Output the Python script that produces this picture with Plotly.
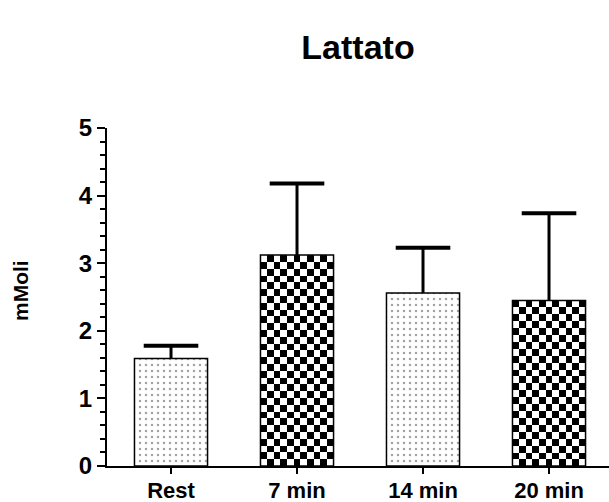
import plotly.graph_objects as go

# Blood lactate at rest and after 7, 14 and 20 minutes
categories = ["Rest", "7 min", "14 min", "20 min"]
means = [1.59, 3.12, 2.56, 2.45]
sd_upper = [0.19, 1.06, 0.67, 1.29]
fills = ["dots", "checker", "dots", "checker"]
y_ticks = [0, 1, 2, 3, 4, 5]

BAR_WIDTH = 0.58
CHECK_COLS = 11
CHECK_STEP = 0.1

x = list(range(len(categories)))
FONT = "Liberation Sans, Arial, sans-serif"

fig = go.Figure()

# Checkerboard fills sit underneath the outlined bars
for xi, val, kind in zip(x, means, fills):
    if kind != "checker":
        continue
    rows = max(1, round(val / CHECK_STEP))
    left = xi - BAR_WIDTH / 2
    xe = [left + BAR_WIDTH * i / CHECK_COLS for i in range(CHECK_COLS + 1)]
    ye = [val * j / rows for j in range(rows + 1)]
    z = [[(i + j) % 2 for i in range(CHECK_COLS)] for j in range(rows)]
    fig.add_trace(go.Heatmap(
        x=xe, y=ye, z=z,
        colorscale=[[0, "white"], [1, "black"]],
        zmin=0, zmax=1, showscale=False, hoverinfo="skip",
    ))

bar_colors = ["white" if f == "dots" else "rgba(0,0,0,0)" for f in fills]
fig.add_trace(go.Bar(
    x=x, y=means, width=BAR_WIDTH,
    marker=dict(
        color=bar_colors,
        line=dict(color="black", width=1.5),
        pattern=dict(
            shape=["." if f == "dots" else "" for f in fills],
            fgcolor="black",
            bgcolor=bar_colors,
            size=6,
            solidity=0.14,
        ),
    ),
    # stem only; the cap is drawn by the marker trace below
    error_y=dict(
        type="data", symmetric=False,
        array=sd_upper, arrayminus=[0] * len(sd_upper),
        color="black", thickness=3, width=0,
    ),
    showlegend=False,
))

# Error-bar caps at mean + SD
fig.add_trace(go.Scatter(
    x=x, y=[m + s for m, s in zip(means, sd_upper)],
    mode="markers",
    marker=dict(symbol="line-ew", size=39, color="black",
                line=dict(color="black", width=4)),
    hoverinfo="skip", showlegend=False,
))

fig.update_layout(
    width=609, height=502,
    margin=dict(l=107, r=0, t=128, b=36, autoexpand=False),
    paper_bgcolor="white", plot_bgcolor="white",
    showlegend=False,
    title=dict(
        text="Lattato", x=(107 + 609) / 2 / 609, xanchor="center",
        y=1 - 47 / 502, yanchor="middle",
        font=dict(family=FONT, size=34, color="black", weight="bold"),
    ),
    font=dict(family=FONT, color="black"),
    annotations=[dict(
        text="mMoli", textangle=-90,
        xref="paper", yref="paper",
        x=(20 - 107) / 502, y=(502 - 36 - 291) / 338,
        xanchor="center", yanchor="middle", showarrow=False,
        font=dict(family=FONT, size=21, color="black", weight="bold"),
    )],
)

fig.update_xaxes(
    automargin=False,
    range=[-0.508, -0.508 + 502 / 126],
    tickmode="array", tickvals=x, ticktext=categories,
    ticks="outside", ticklen=6, tickwidth=2, tickcolor="black",
    ticklabelstandoff=-2,
    showline=True, linecolor="black", linewidth=2,
    showgrid=False, zeroline=False,
    tickfont=dict(family=FONT, size=22, color="black", weight="bold"),
)

fig.update_yaxes(
    automargin=False,
    range=[0, 5],
    tickmode="array", tickvals=y_ticks,
    ticks="outside", ticklen=8, tickwidth=2, tickcolor="black",
    minor=dict(dtick=0.2, ticks="outside", ticklen=5, tickwidth=1.5, tickcolor="black"),
    showline=True, linecolor="black", linewidth=2,
    showgrid=False, zeroline=False,
    tickfont=dict(family=FONT, size=24, color="black", weight="bold"),
)

fig.write_html("out.html")
